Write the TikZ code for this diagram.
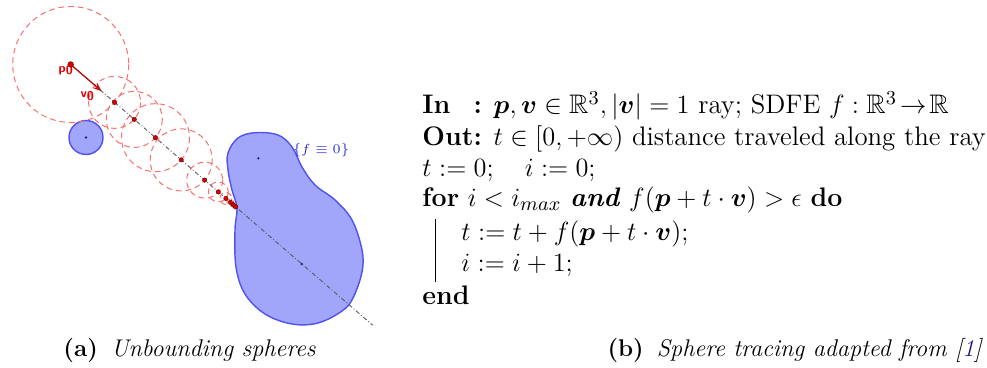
\documentclass[tikz,border=0pt]{standalone}
\usepackage{amsmath,amssymb}
\usetikzlibrary{arrows.meta}
\definecolor{blobfill}{RGB}{162,166,250}
\definecolor{blobline}{RGB}{80,84,238}
\definecolor{blobdark}{RGB}{40,40,110}
\definecolor{labelblue}{RGB}{40,40,220}
\definecolor{stepred}{RGB}{250,110,110}
\definecolor{dotred}{RGB}{220,0,0}
\definecolor{dirred}{RGB}{185,20,20}
\definecolor{linkblue}{RGB}{25,25,140}
\tikzset{
  blob/.style={draw=blobline, fill=blobfill, line width=0.65pt},
  blobdot/.style={circle, fill=blobdark, inner sep=0pt, minimum size=1.2pt},
  stepcircle/.style={draw=stepred, line width=0.45pt, dash pattern=on 2.6pt off 1.8pt},
  ray/.style={draw=black!65, line width=0.4pt, dash pattern=on 2pt off 1pt on 0.4pt off 1pt},
  raydot/.style={circle, fill=dotred, draw=red!40!black, line width=0.2pt, inner sep=0pt, minimum size=2pt},
  ptlabel/.style={text=dotred, font=\fontsize{5.8}{6}\sffamily\bfseries, inner sep=0pt},
  algline/.style={anchor=base west, inner sep=0pt},
  caption/.style={anchor=base west, inner sep=0pt, font=\fontsize{11}{13}\selectfont},
}
\begin{document}
\begin{tikzpicture}[x=0.16mm, y=-0.16mm, line width=0.45pt, font=\fontsize{12.2}{14.6}\selectfont]
  \useasboundingbox (0,0) rectangle (987,368);
  \coordinate (p0) at (70.7,64.5);
  \draw[blob] plot[smooth cycle, tension=0.6] coordinates {(255,132.7) (278,135) (292,147) (302,167) (315,185) (335,200) (352,220) (362,250) (362,272) (353,298) (342,311) (318,323) (292,324) (265,314) (245,294) (236,267) (235,230) (237,208) (232,190) (228,170) (228,153) (238,138)};
  \draw[blob] (86,137.5) circle[radius=17];
  \node[blobdot] (c1) at (86,137.5) {};
  \node[blobdot] (c2) at (258.3,158.3) {};
  \node[blobdot] (c3) at (301.7,264) {};
  \foreach \t/\r in {0/58, 58/26, 84/28, 112/34, 146/31, 177/18, 195/10, 205/6, 211/3.5, 214.5/2, 216.5/1.5}
    \draw[stepcircle] (p0) ++(40.8:\t) circle[radius=\r];
  \coordinate (rayend) at ([shift={(40.8:399)}]p0);
  \draw[ray] (p0) -- (rayend);
  \coordinate (v0tip) at ([shift={(40.8:41)}]p0);
  \draw[dirred, line width=0.6pt, -{Stealth[length=4pt, width=3pt]}] (p0) -- (v0tip);
  \foreach \t [count=\i] in {58,84,112,146,177,195,205,211,214.5,216.5,218}
    \node[raydot] (s\i) at ([shift={(40.8:\t)}]p0) {};
  \node[raydot, minimum size=2.6pt] (p0dot) at (p0) {};
  \node[ptlabel] (p0lab) at (65.7,70.5) {p\raisebox{-0.45ex}{0}};
  \node[ptlabel] (v0lab) at (87.3,96) {v\raisebox{-0.45ex}{0}};
  \node[text=labelblue, font=\fontsize{5.8}{7}\selectfont] (flab) at (321,150.7) {$\{f\equiv0\}$};

  \node[algline] (lin) at (422,114) {\rlap{\textbf{In}}\hphantom{\textbf{Out}}\textbf{:} $\boldsymbol{p},\boldsymbol{v}\in\mathbb{R}^3, |\boldsymbol{v}|=1$ ray; SDFE $f:\mathbb{R}^3\!\rightarrow\!\mathbb{R}$};
  \node[algline] (lout) at (422,146) {\textbf{Out:} $t\in[0,+\infty)$ distance traveled along the ray};
  \node[algline] (linit) at (422,177) {$t:=0;\quad i:=0;$};
  \node[algline] (lfor) at (422,207) {\textbf{for} $i<i_{max}$ \textbf{\textit{and}} $f(\boldsymbol{p}+t\cdot\boldsymbol{v})>\epsilon$ \textbf{do}};
  \node[algline] (lstep) at (461,241) {$t:=t+f(\boldsymbol{p}+t\cdot\boldsymbol{v});$};
  \node[algline] (linc) at (461,272) {$i:=i+1;$};
  \node[algline] (lend) at (422,305) {\textbf{end}};
  \coordinate (bartop) at (435,219);
  \coordinate (barbot) at (435,282);
  \draw (bartop) -- (barbot);

  \node[caption] (capa) at (63,357) {\textbf{(a)}\hspace{6pt}\textit{Unbounding spheres}};
  \node[caption] (capb) at (607,357) {\textbf{(b)}\hspace{6pt}\textit{Sphere tracing adapted from [\textcolor{linkblue}{1}]}};
\end{tikzpicture}
\end{document}
